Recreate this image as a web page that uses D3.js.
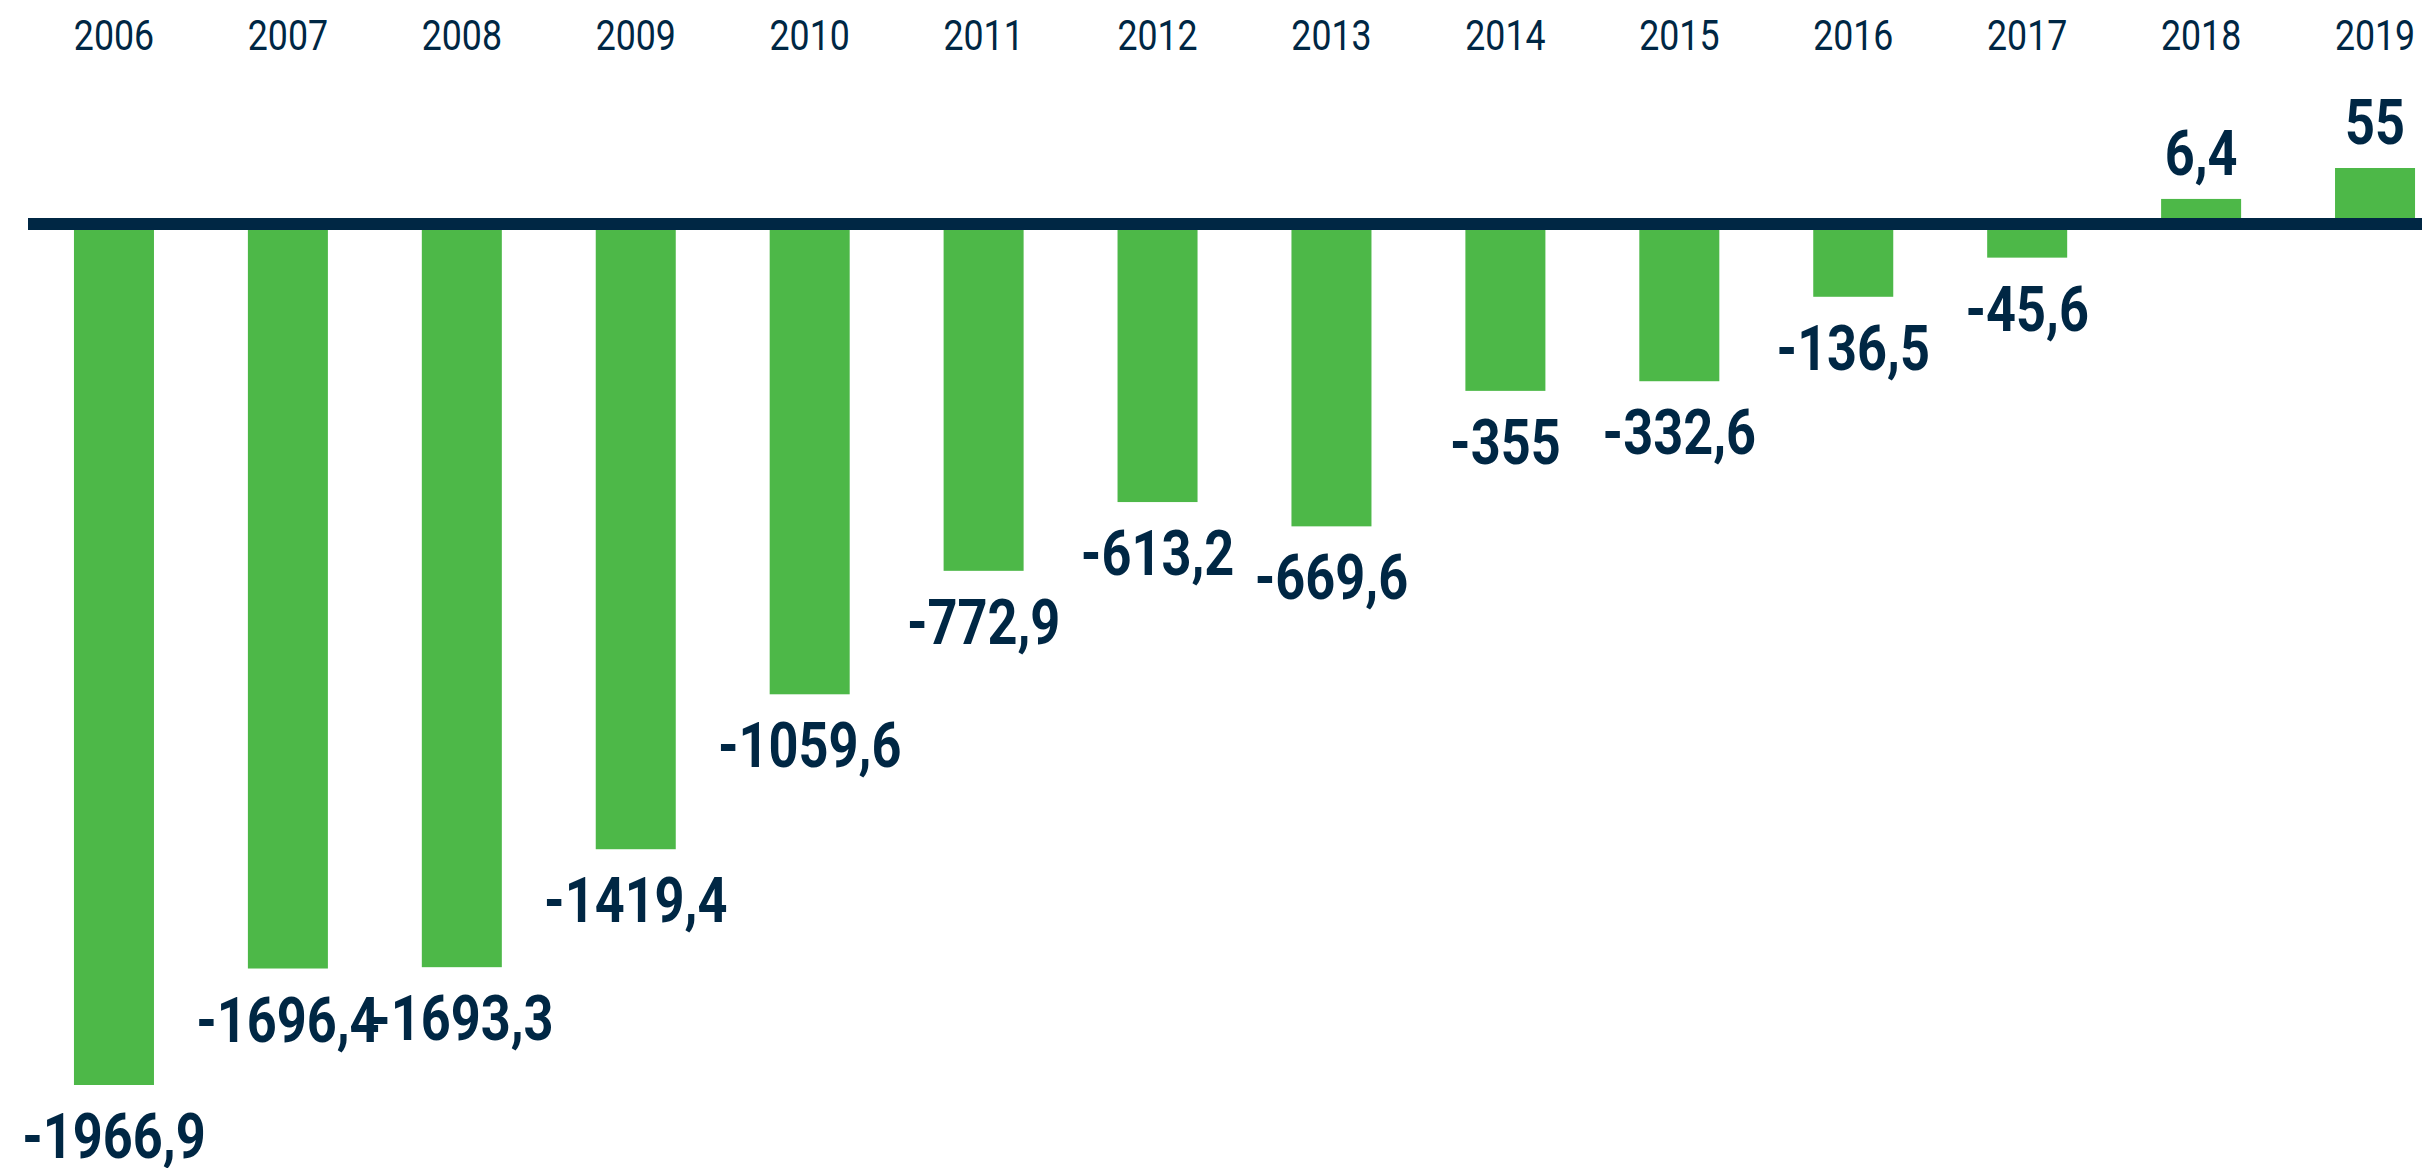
<!DOCTYPE html>
<html>
<head>
<meta charset="utf-8">
<script src="https://cdn.jsdelivr.net/npm/d3@7"></script>
<style>
  body { margin: 0; background: #ffffff; }
  svg { display: block; }
</style>
</head>
<body>
<div id="chart"></div>
<script>
var years = ["2006", "2007", "2008", "2009", "2010", "2011", "2012",
  "2013", "2014", "2015", "2016", "2017", "2018", "2019"];
var values = [-1966.9, -1696.4, -1693.3, -1419.4, -1059.6, -772.9, -613.2,
  -669.6, -355, -332.6, -136.5, -45.6, 6.4, 55];

var width = 2422,
  height = 1168;
var green = "#4db848",
  navy = "#002744";

var lineTop = 218,
  lineBottom = 230;

var svg = d3.select("#chart").append("svg")
  .attr("width", width)
  .attr("height", height);

svg.append("rect")
  .attr("width", width)
  .attr("height", height)
  .attr("fill", "#ffffff");

var x = d3.scaleBand()
  .domain(years)
  .range([27, 2462])
  .paddingInner(0.54)
  .paddingOuter(0.27);

// losses hang below the rule, gains sit on top of it
var yNeg = d3.scaleLinear()
  .domain([0, d3.min(values)])
  .range([238, 1085]);
var yPos = d3.scaleLinear()
  .domain([0, d3.max(values)])
  .range([203, 168]);

var data = years.map(function(y, i) {
  return { year: y, value: values[i] };
});

function fmt(v) {
  return String(v).replace(".", ",");
}

svg.append("g")
  .selectAll("rect")
  .data(data)
  .enter().append("rect")
  .attr("x", function(d) { return x(d.year); })
  .attr("width", x.bandwidth())
  .attr("y", function(d) {
    return d.value < 0 ? lineTop : yPos(d.value);
  })
  .attr("height", function(d) {
    return d.value < 0 ? yNeg(d.value) - lineTop : lineTop - yPos(d.value);
  })
  .attr("fill", green);

// zero rule
svg.append("rect")
  .attr("x", 28)
  .attr("y", lineTop)
  .attr("width", width - 28)
  .attr("height", lineBottom - lineTop)
  .attr("fill", navy);

// year labels
svg.append("g")
  .selectAll("text")
  .data(data)
  .enter().append("text")
  .attr("transform", function(d) {
    return "translate(" + (x(d.year) + x.bandwidth() / 2) + ",50) scale(0.85,1)";
  })
  .attr("text-anchor", "middle")
  .attr("font-family", "Roboto, sans-serif")
  .attr("font-size", 42)
  .attr("fill", navy)
  .text(function(d) { return d.year; });

// value labels
svg.append("g")
  .selectAll("text")
  .data(data)
  .enter().append("text")
  .attr("transform", function(d) {
    var ty = d.value < 0 ? yNeg(d.value) + 73 : yPos(d.value) - 24;
    return "translate(" + (x(d.year) + x.bandwidth() / 2) + "," + ty + ") scale(0.83,1)";
  })
  .attr("text-anchor", "middle")
  .attr("font-family", "Roboto, sans-serif")
  .attr("font-weight", 700)
  .attr("font-size", 63)
  .attr("fill", navy)
  .text(function(d) { return fmt(d.value); });
</script>
</body>
</html>
